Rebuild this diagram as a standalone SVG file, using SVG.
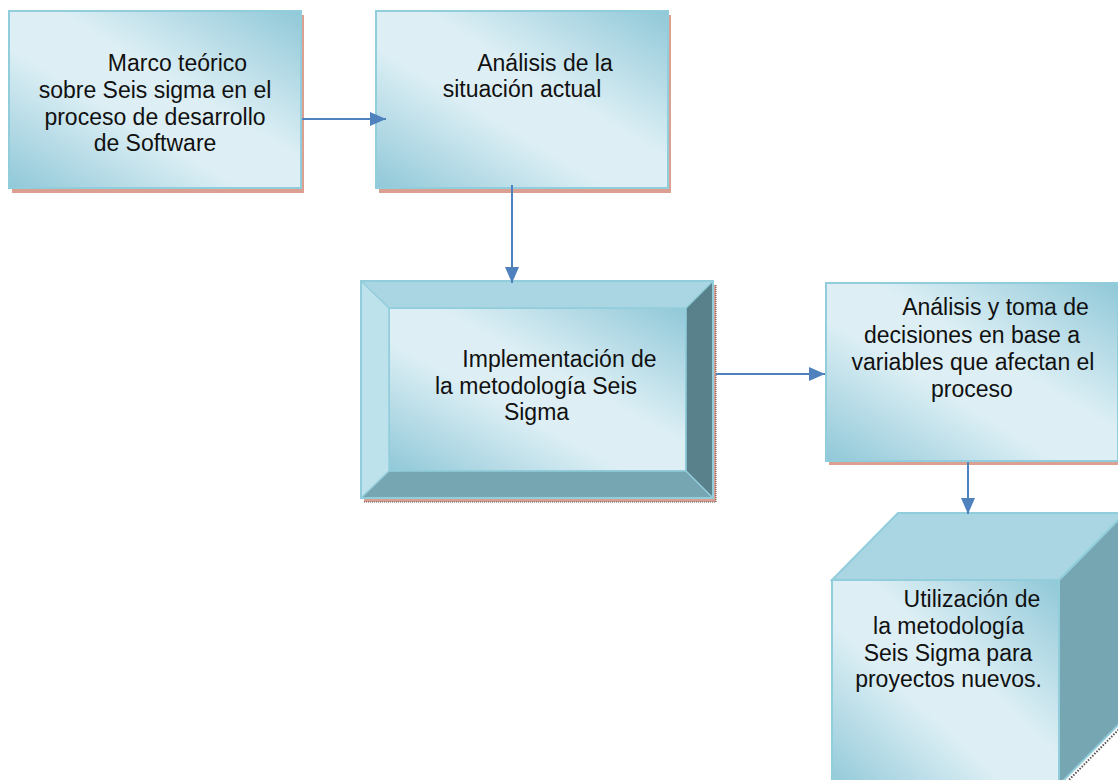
<svg xmlns="http://www.w3.org/2000/svg" width="1118" height="780" viewBox="0 0 1118 780">
<defs>
<linearGradient id="g" x1="1" y1="0" x2="0" y2="1">
<stop offset="0" stop-color="#90C8D8"/>
<stop offset="0.42" stop-color="#DDEFF5"/>
<stop offset="0.6" stop-color="#DDEFF5"/>
<stop offset="1" stop-color="#90C8D8"/>
</linearGradient>
<marker id="ah" markerUnits="userSpaceOnUse" markerWidth="16" markerHeight="14" refX="16" refY="7" orient="auto">
<path d="M0,0 L16,7 L0,14 Z" fill="#4F81BD"/>
</marker>
</defs>
<style>
.box{fill:url(#g);stroke:#92CDDC;stroke-width:2}
.sh{fill:#DBA091}
.t{font-family:"Liberation Sans",Arial,sans-serif;font-size:23px;fill:#111;text-anchor:middle}
.c{stroke:#4F81BD;stroke-width:2;fill:none;marker-end:url(#ah)}
</style>
<rect width="1118" height="780" fill="#fff"/>
<g id="n1">
<rect class="sh" x="12" y="15" width="292" height="178"/>
<rect class="box" x="9" y="11" width="292" height="177"/>
<text class="t"><tspan x="177.5" y="71">Marco teórico</tspan><tspan x="155" y="97.5">sobre Seis sigma en el</tspan><tspan x="155" y="124.5">proceso de desarrollo</tspan><tspan x="155" y="150.5">de Software</tspan></text>
</g>
<g id="n2">
<rect class="sh" x="379" y="15" width="292" height="178"/>
<rect class="box" x="376" y="11" width="292" height="177"/>
<text class="t"><tspan x="545" y="71">Análisis de la</tspan><tspan x="522" y="97">situación actual</tspan></text>
</g>
<g id="n3">
<rect class="sh" x="364" y="285" width="352" height="217"/>
<path d="M364,502 H716 V285" fill="none" stroke="#555" stroke-width="1" stroke-dasharray="1,1"/>
<rect class="box" x="389" y="308" width="297" height="163" stroke="none"/>
<polygon points="361,281 713,281 686,308 389,308" fill="#A9D6E2"/>
<polygon points="361,281 389,308 389,471 361,498" fill="#BEE2EC"/>
<polygon points="713,281 713,498 686,471 686,308" fill="#58818C"/>
<polygon points="361,498 713,498 686,471 389,471" fill="#76A6B1"/>
<g stroke="#92CDDC" stroke-width="1.5" fill="none">
<rect x="361" y="281" width="352" height="217" stroke-width="2"/>
<rect x="389" y="308" width="297" height="163"/>
<path d="M361,281 L389,308 M713,281 L686,308 M713,498 L686,471 M361,498 L389,471"/>
</g>
<text class="t"><tspan x="559.5" y="367">Implementación de</tspan><tspan x="536" y="393.5">la metodología Seis</tspan><tspan x="536.5" y="420">Sigma</tspan></text>
</g>
<g id="n4">
<rect class="sh" x="829" y="287" width="292" height="178"/>
<rect class="box" x="826" y="283" width="292" height="178"/>
<text class="t"><tspan x="995.5" y="315">Análisis y toma de</tspan><tspan x="972" y="342.5">decisiones en base a</tspan><tspan x="973" y="370">variables que afectan el</tspan><tspan x="972" y="397">proceso</tspan></text>
</g>
<g id="n5">
<path d="M1127,721 L1061,788" stroke="#555" stroke-width="2" stroke-dasharray="1.5,1.5" fill="none"/>
<polygon points="1059,580 1125,513 1125,718 1059,785" fill="#76A6B1" stroke="#92CDDC" stroke-width="2"/>
<polygon points="832,580 898,513 1125,513 1059,580" fill="#A9D6E2" stroke="#92CDDC" stroke-width="2"/>
<rect class="box" x="832" y="580" width="227" height="210"/>
<text class="t"><tspan x="972" y="607">Utilización de</tspan><tspan x="948.5" y="633.5">la metodología</tspan><tspan x="948" y="660.5">Seis Sigma para</tspan><tspan x="948.5" y="686.5">proyectos nuevos.</tspan></text>
</g>
<g id="connectors">
<path class="c" d="M302,119 H386"/>
<path class="c" d="M512,185 V283"/>
<path class="c" d="M716,374 H825"/>
<path class="c" d="M968,462 V514"/>
</g>
</svg>
